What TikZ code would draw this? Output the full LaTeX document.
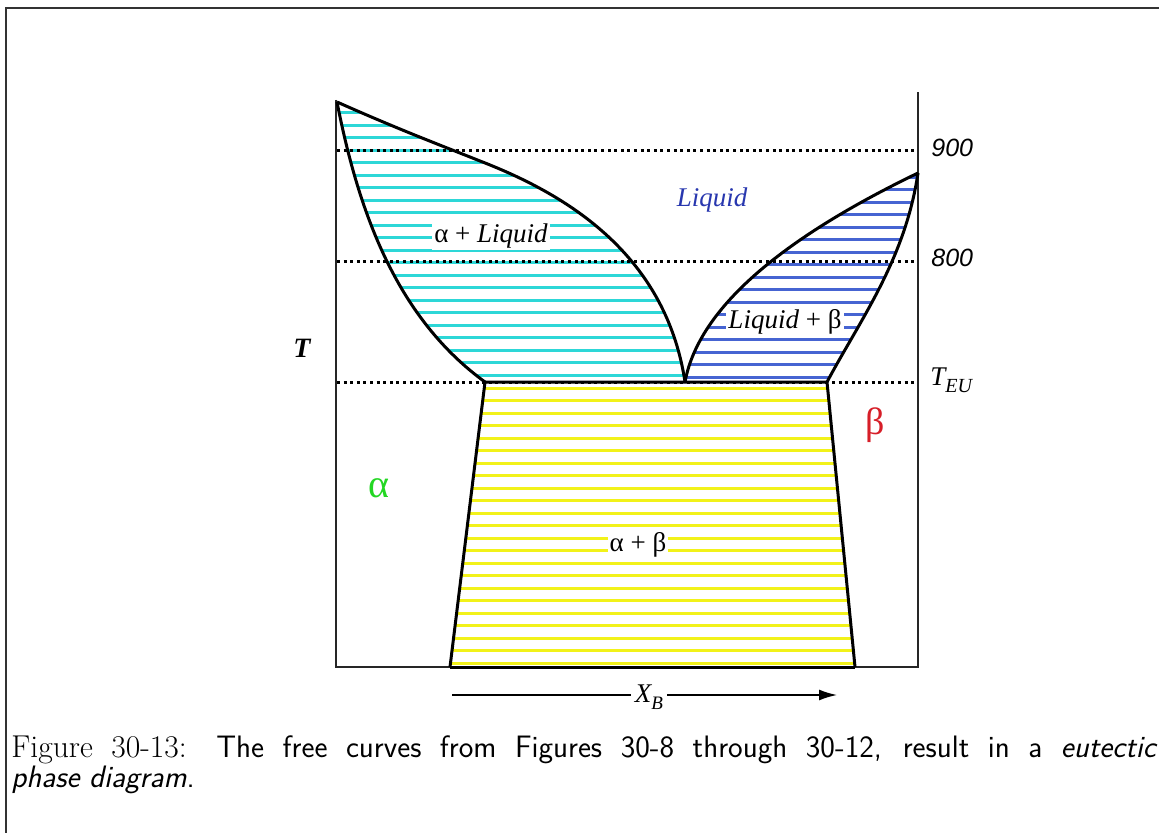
\documentclass[tikz,border=0pt]{standalone}
\usepackage{fontspec}
\newfontfamily\timesf{Liberation Serif}
\newfontfamily\helvf{Liberation Sans}
\usetikzlibrary{arrows.meta}
\definecolor{cyanH}{RGB}{45,215,215}
\definecolor{blueH}{RGB}{70,100,210}
\definecolor{yellowH}{RGB}{242,242,25}
\definecolor{liqblue}{RGB}{40,55,175}
\definecolor{betared}{RGB}{215,30,40}
\definecolor{alphagreen}{RGB}{35,215,35}
\tikzset{
  curve/.style={line width=1.5pt, black, line join=round},
  axisline/.style={line width=1pt, black!85},
  dotline/.style={line width=1.5pt, black, dash pattern=on 1.5pt off 1.8pt},
  stripe/.style={line width=1.5pt},
  lab/.style={fill=white, inner sep=1pt, font=\timesf\fontsize{13.5}{15}\selectfont},
  tick/.style={anchor=west, inner sep=0pt, font=\helvf\itshape\fontsize{12.5}{13}\selectfont}
}
\begin{document}
\begin{tikzpicture}[x=0.5pt,y=-0.5pt]
\useasboundingbox (0,0) rectangle (1159,833);
\fill[white] (0,0) rectangle (1159,833);
% frame
\draw[line width=1.1pt, black!80] (6,840) -- (6,8) -- (1170,8);

% key points
\coordinate (A) at (337,102);
\coordinate (B) at (918,173);
\coordinate (E) at (685,382);
\coordinate (M) at (480,161);
\coordinate (SL) at (485,382);
\coordinate (SR) at (827,382);
\coordinate (BL) at (450,667);
\coordinate (BR) at (855,667);

% cyan stripes (alpha + liquid)
\begin{scope}
\clip (A) .. controls (360,220) and (400,320) .. (SL) -- (E)
  .. controls (665,250) and (560,192) .. (M) .. controls (440,145) and (400,130) .. (A) -- cycle;
\foreach \k in {0,...,21} \draw[stripe, cyanH] (330,{113+12.5*\k}) -- (700,{113+12.5*\k});
\end{scope}
% blue stripes (liquid + beta)
\begin{scope}
\clip (E) .. controls (700,300) and (800,230) .. (B) .. controls (905,260) and (860,320) .. (SR) -- cycle;
\foreach \k in {0,...,16} \draw[stripe, blueH] (680,{177.5+12.5*\k}) -- (925,{177.5+12.5*\k});
\end{scope}
% yellow stripes (alpha + beta)
\begin{scope}
\clip (SL) -- (SR) -- (BR) -- (BL) -- cycle;
\foreach \k in {0,...,22} \draw[stripe, yellowH] (440,{388+12.5*\k}) -- (870,{388+12.5*\k});
\end{scope}

% dotted isotherms
\draw[dotline] (337,151) -- (918,151);
\draw[dotline] (337,262) -- (918,262);
\draw[dotline] (337,382) -- (918,382);

% axes
\draw[axisline] (336,100) -- (336,667) -- (918,667) -- (918,92);

% phase boundaries
\draw[curve] (A) .. controls (400,130) and (440,145) .. (M) .. controls (560,192) and (665,250) .. (E);
\draw[curve] (A) .. controls (360,220) and (400,320) .. (SL);
\draw[curve] (E) .. controls (700,300) and (800,230) .. (B);
\draw[curve] (B) .. controls (905,260) and (860,320) .. (SR);
\draw[curve] (BL) -- (SL) -- (SR) -- (BR);
\draw[curve] (BL) -- (BR);

% region labels
\node[lab] (aliq) at (491,236) {α + \textit{Liquid}};
\node[lab] (liqb) at (785,322) {\textit{Liquid} + β};
\node[lab] (ab) at (638,545) {α + β};
\node[inner sep=0pt, text=liqblue, font=\timesf\itshape\fontsize{13.5}{15}\selectfont] (liq) at (712,200) {Liquid};
\node[inner sep=0pt, text=betared, font=\timesf\fontsize{19}{19}\selectfont] (beta) at (875,425) {β};
\node[inner sep=0pt, text=alphagreen, font=\timesf\fontsize{20}{20}\selectfont] (alpha) at (379,488) {α};

% axis labels
\node[inner sep=0pt, font=\timesf\bfseries\itshape\fontsize{14}{14}\selectfont] (T) at (302,348) {T};
\node[tick] (t900) at (931,148) {900};
\node[tick] (t800) at (931,258) {800};
\node[anchor=west, inner sep=0pt, font=\timesf\itshape\fontsize{13.5}{13.5}\selectfont] (teu) at (930,380) {T\raisebox{-3.5pt}{\fontsize{10}{10}\selectfont EU}};

% composition arrow
\coordinate (xs) at (452,695);
\coordinate (xe) at (837,695);
\node[inner sep=2pt, font=\timesf\itshape\fontsize{13.5}{13.5}\selectfont] (XB) at (649,697) {X\raisebox{-3.5pt}{\fontsize{9.5}{9.5}\selectfont B}};
\draw[line width=0.8pt] (xs) -- (XB.west |- xs);
\draw[line width=0.8pt, -{Latex[length=9pt,width=5.5pt]}] (XB.east |- xe) -- (xe);

% caption
\node[anchor=north west, inner sep=0pt, text width=573pt, align=justify,
  font=\fontsize{15.5}{12.5}\selectfont] (cap) at (11,735)
  {{\rmfamily\fontsize{15.8}{12.5}\selectfont Figure 30-13:} \sffamily The free curves from Figures 30-8 through 30-12, result in a \textit{eutectic}\linebreak \textit{phase diagram}.};
\end{tikzpicture}
\end{document}
